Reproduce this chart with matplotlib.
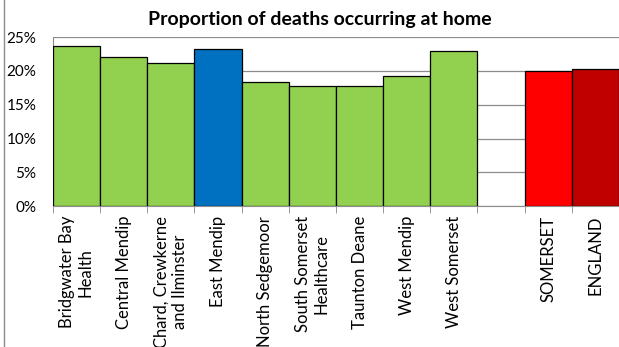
import numpy as np
import matplotlib.pyplot as plt
from matplotlib.lines import Line2D

plt.rcParams['font.family'] = ['Lato', 'DejaVu Sans']

labels = ['Bridgwater Bay\nHealth', 'Central Mendip', 'Chard, Crewkerne\nand Ilminster',
          'East Mendip', 'North Sedgemoor', 'South Somerset\nHealthcare', 'Taunton Deane',
          'West Mendip', 'West Somerset', '', 'SOMERSET', 'ENGLAND']
values = [23.7, 22.1, 21.1, 23.3, 18.4, 17.8, 17.8, 19.2, 22.9, np.nan, 20.0, 20.3]
colors = ['#92D050'] * 3 + ['#0070C0'] + ['#92D050'] * 5 + ['white', '#FF0000', '#C00000']

fig = plt.figure(figsize=(6.19, 3.47), dpi=100)
ax = fig.add_axes([0.0856, 0.406, 0.9144, 0.487])

x = np.arange(len(labels))
ax.bar(x, values, width=1.0, color=colors, edgecolor='black', linewidth=0.9, zorder=3)

ax.set_xlim(-0.5, len(labels) - 0.5)
ax.set_ylim(0, 25)
ax.set_yticks([0, 5, 10, 15, 20, 25])
ax.set_yticklabels([f'{v}%' for v in [0, 5, 10, 15, 20, 25]], fontsize=11)
ax.yaxis.grid(True, color='#8c8c8c', linewidth=0.9, zorder=0)
ax.tick_params(axis='y', length=0, pad=12)

ax.set_xticks(x)
ax.set_xticklabels(labels, rotation=90, fontsize=12, ha='center', va='top',
                   multialignment='center', linespacing=1.2)
ax.tick_params(axis='x', length=0, pad=7)
ax.set_xticks(np.arange(-0.5, len(labels), 1), minor=True)
ax.tick_params(axis='x', which='minor', length=5, color='#8c8c8c')

for s in ['top', 'right']:
    ax.spines[s].set_visible(False)
ax.spines['left'].set_color('#8c8c8c')
ax.spines['bottom'].set_color('#8c8c8c')

fig.text(0.517, 0.945, 'Proportion of deaths occurring at home', ha='center', va='center',
         fontsize=14, fontweight='bold')

fig.add_artist(Line2D([0.006, 0.006], [0, 1], color='#8c8c8c', linewidth=1, transform=fig.transFigure))

fig.savefig('out.png', dpi=100)
